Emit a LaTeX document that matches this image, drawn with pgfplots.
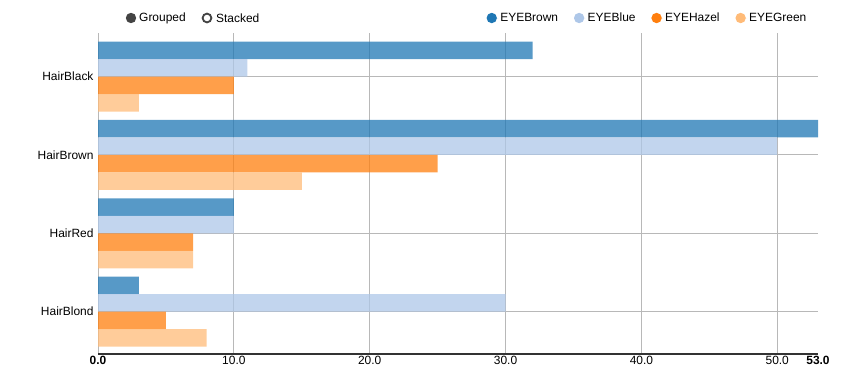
\documentclass[border=0pt]{standalone}
\usepackage{pgfplots}
\pgfplotsset{compat=1.18}
\usepackage{fontspec}
\setmainfont{Liberation Sans}
\definecolor{cBrown}{HTML}{1F77B4}
\definecolor{cBlue}{HTML}{AEC7E8}
\definecolor{cHazel}{HTML}{FF7F0E}
\definecolor{cGreen}{HTML}{FFBB78}
\definecolor{cGrid}{HTML}{B8B8B8}
\definecolor{cCtrl}{HTML}{444444}
\newcommand{\f}{\fontsize{12}{14}\selectfont}
\begin{document}
\begin{tikzpicture}
\useasboundingbox (0,0) rectangle (866bp,-377bp);
\begin{axis}[
  scale only axis, width=720bp, height=321bp,
  anchor=south west, at={(98bp,-354bp)},
  xmin=0, xmax=53, ymin=-0.54, ymax=3.555,
  xtick={0,10,20,30,40,50},
  xticklabels={\textbf{0.0},10.0,20.0,30.0,40.0,50.0},
  extra x ticks={53},
  extra x tick labels={\textbf{53.0}},
  extra x tick style={grid=none},
  ytick={0,1,2,3},
  yticklabels={HairBlond,HairRed,HairBrown,HairBlack},
  xmajorgrids, ymajorgrids,
  grid style={cGrid, line width=0.8bp},
  major tick length=0pt,
  axis x line*=bottom,
  axis y line*=left,
  x axis line style={draw=black!80, line width=1.2bp, -},
  y axis line style={draw=none},
  tick label style={font=\f, text=black},
  xticklabel style={yshift=1bp},
  yticklabel style={xshift=-1bp},
  legend style={at={(0.5459,1.0467)}, anchor=west, draw=none, fill=none,
    inner sep=0pt, font=\f,
    /tikz/every even column/.style={column sep=18.5bp}},
  legend columns=4,
  legend cell align=left,
]
\addplot[xbar, bar width=17.5bp, bar shift=26.25bp, fill=cBrown, fill opacity=0.75, draw=none,
  legend image code/.code={\path (0,0) -- (7.1bp,0); \fill[cBrown, fill opacity=1, overlay] (0.5bp,0) circle (5.2bp);}]
  coordinates {(32,3) (53,2) (10,1) (3,0)};
\addlegendentry{EYEBrown}
\addplot[xbar, bar width=17.5bp, bar shift=8.75bp, fill=cBlue, fill opacity=0.75, draw=none,
  legend image code/.code={\path (0,0) -- (7.1bp,0); \fill[cBlue, fill opacity=1, overlay] (0.5bp,0) circle (5.2bp);}]
  coordinates {(11,3) (50,2) (10,1) (30,0)};
\addlegendentry{EYEBlue}
\addplot[xbar, bar width=17.5bp, bar shift=-8.75bp, fill=cHazel, fill opacity=0.75, draw=none,
  legend image code/.code={\path (0,0) -- (7.1bp,0); \fill[cHazel, fill opacity=1, overlay] (0.5bp,0) circle (5.2bp);}]
  coordinates {(10,3) (25,2) (7,1) (5,0)};
\addlegendentry{EYEHazel}
\addplot[xbar, bar width=17.5bp, bar shift=-26.25bp, fill=cGreen, fill opacity=0.75, draw=none,
  legend image code/.code={\path (0,0) -- (7.1bp,0); \fill[cGreen, fill opacity=1, overlay] (0.5bp,0) circle (5.2bp);}]
  coordinates {(3,3) (15,2) (7,1) (8,0)};
\addlegendentry{EYEGreen}
\end{axis}
\fill[cCtrl] (131bp,-18bp) circle (5.2bp);
\node[anchor=west, inner sep=0pt, font=\f] at (139bp,-18bp) {Grouped};
\draw[cCtrl, line width=1.8bp] (207bp,-18bp) circle (4.4bp);
\node[anchor=west, inner sep=0pt, font=\f] at (216bp,-18bp) {Stacked};
\end{tikzpicture}
\end{document}
